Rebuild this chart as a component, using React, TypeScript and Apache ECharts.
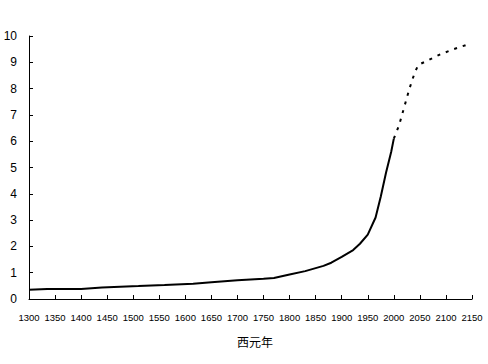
import React, { useEffect, useRef } from "react";
import * as echarts from "echarts";

// Historical estimates (billions)
const histYears = [1300, 1335, 1400, 1440, 1510, 1560, 1615, 1650, 1700, 1750, 1770, 1800, 1830, 1865, 1880, 1900, 1922, 1935, 1950, 1965, 1975, 1985, 1995, 2000];
const histValues = [0.35, 0.38, 0.38, 0.44, 0.49, 0.53, 0.58, 0.64, 0.71, 0.77, 0.8, 0.93, 1.06, 1.26, 1.38, 1.6, 1.86, 2.1, 2.45, 3.1, 3.9, 4.8, 5.6, 6.1];

// Projection (billions)
const projYears = [2000, 2010, 2020, 2030, 2040, 2047, 2065, 2090, 2115, 2142];
const projValues = [6.1, 6.6, 7.3, 8.0, 8.6, 8.9, 9.07, 9.31, 9.5, 9.68];

const xTicks = { min: 1300, max: 2150, interval: 50 };
const yTicks = { min: 0, max: 10, interval: 1 };
const xAxisName = "西元年";

const numFont = '"Liberation Sans", Arial, sans-serif';

export default function App() {
  const ref = useRef<HTMLDivElement>(null);
  useEffect(() => {
    if (!ref.current) return;
    document.body.style.margin = "0";
    document.body.style.overflow = "hidden";
    const chart = echarts.init(ref.current, undefined, { renderer: "svg" });
    chart.setOption({
      animation: false,
      backgroundColor: "#ffffff",
      grid: { left: 29, right: 16, top: 36, bottom: 65, containLabel: false, outerBoundsMode: "none" },
      xAxis: {
        type: "value",
        min: xTicks.min,
        max: xTicks.max,
        interval: xTicks.interval,
        name: xAxisName,
        nameLocation: "middle",
        nameGap: 36,
        nameTextStyle: { fontFamily: '"Noto Sans CJK TC", sans-serif', fontSize: 12, color: "#000", padding: [0, 0, 0, 9] },
        axisLine: { show: true, lineStyle: { color: "#000", width: 1 } },
        axisTick: { show: true, inside: true, length: 4, lineStyle: { color: "#000" } },
        axisLabel: {
          color: "#000",
          fontFamily: numFont,
          fontSize: 9.5,
          margin: 13,
          showMinLabel: true,
          showMaxLabel: true,
          hideOverlap: false,
          overflow: "none",
          formatter: (v: number) => String(v),
        },
        splitLine: { show: false },
      },
      yAxis: {
        type: "value",
        min: yTicks.min,
        max: yTicks.max,
        interval: yTicks.interval,
        axisLine: { show: true, lineStyle: { color: "#000", width: 1 } },
        axisTick: { show: true, inside: true, length: 4, lineStyle: { color: "#000" } },
        axisLabel: { color: "#000", fontFamily: numFont, fontSize: 12, margin: 12, overflow: "none", formatter: (v: number) => String(v) },
        splitLine: { show: false },
      },
      series: [
        {
          type: "line",
          data: histYears.map((y, i) => [y, histValues[i]]),
          showSymbol: false,
          lineStyle: { color: "#000", width: 2 },
        },
        {
          type: "line",
          data: projYears.map((y, i) => [y, projValues[i]]),
          showSymbol: false,
          lineStyle: { color: "#000", width: 2, type: [3, 6] },
        },
      ],
    });
    return () => chart.dispose();
  }, []);
  return <div ref={ref} style={{ position: "fixed", left: 0, top: 0, width: 488, height: 364 }} />;
}
